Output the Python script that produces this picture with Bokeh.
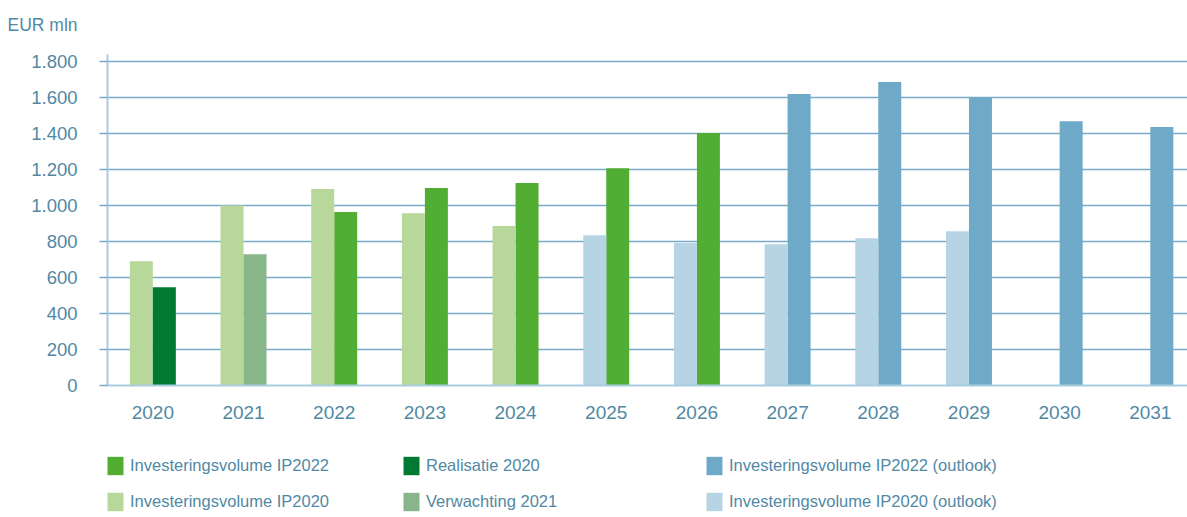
from bokeh.plotting import figure
from bokeh.layouts import column
from bokeh.models import Range1d, FixedTicker, Legend, LegendItem, ColumnDataSource
from bokeh.transform import dodge
from bokeh.embed import file_html
from bokeh.resources import INLINE

# ---------------- data ----------------
years = ["2020", "2021", "2022", "2023", "2024", "2025", "2026",
         "2027", "2028", "2029", "2030", "2031"]

ip2020_years = ["2020", "2021", "2022", "2023", "2024"]
ip2020_values = [690, 1000, 1091, 957, 885]

ip2020_outlook_years = ["2025", "2026", "2027", "2028", "2029"]
ip2020_outlook_values = [835, 791, 785, 818, 857]

realisatie_years = ["2020"]
realisatie_values = [546]

verwachting_years = ["2021"]
verwachting_values = [729]

ip2022_years = ["2022", "2023", "2024", "2025", "2026"]
ip2022_values = [963, 1096, 1124, 1207, 1402]

ip2022_outlook_years = ["2027", "2028", "2029", "2030", "2031"]
ip2022_outlook_values = [1618, 1685, 1600, 1468, 1435]

y_ticks = [0, 200, 400, 600, 800, 1000, 1200, 1400, 1600, 1800]

# ---------------- styles ----------------
C_IP2022 = "#52ad33"
C_REAL = "#007a33"
C_IP2020 = "#b8d79b"
C_VERW = "#88b58a"
C_IP2022_OUT = "#6eaac8"
C_IP2020_OUT = "#b7d4e5"
TEXT = "#5189a5"
GRID = "#78aac5"
AXIS = "#a8cde0"
FONT = "Liberation Sans"

BAR_W = 0.2536

p = figure(width=1187, height=440, output_backend="svg", toolbar_location=None,
           x_range=Range1d(-0.5, 11.41), y_range=Range1d(0, 1838),
           min_border_left=107, min_border_right=0, min_border_top=54,
           min_border_bottom=55)
p.outline_line_color = None
p.background_fill_color = None
p.border_fill_color = "white"


def src(yrs, vals):
    return ColumnDataSource(dict(x=[years.index(y) for y in yrs], top=vals))


series = [
    ("Investeringsvolume IP2022", ip2022_years, ip2022_values, C_IP2022, +1),
    ("Investeringsvolume IP2020", ip2020_years, ip2020_values, C_IP2020, -1),
    ("Realisatie 2020", realisatie_years, realisatie_values, C_REAL, +1),
    ("Verwachting 2021", verwachting_years, verwachting_values, C_VERW, +1),
    ("Investeringsvolume IP2022 (outlook)", ip2022_outlook_years, ip2022_outlook_values, C_IP2022_OUT, +1),
    ("Investeringsvolume IP2020 (outlook)", ip2020_outlook_years, ip2020_outlook_values, C_IP2020_OUT, -1),
]

sources = []
for name, yrs, vals, col, side in series:
    s = src(yrs, vals)
    sources.append(s)
    p.vbar(x=dodge("x", side * BAR_W / 2), top="top", width=BAR_W, bottom=0,
           source=s, fill_color=col, line_color=None)

# ---------------- axes ----------------
p.xgrid.grid_line_color = None
p.ygrid.grid_line_color = GRID
p.ygrid.grid_line_width = 1.3
p.ygrid.ticker = FixedTicker(ticks=y_ticks)

p.yaxis.ticker = FixedTicker(ticks=y_ticks)
p.yaxis.major_label_overrides = {v: f"{v:,}".replace(",", ".") for v in y_ticks}
p.yaxis.axis_line_color = AXIS
p.yaxis.axis_line_width = 2
p.yaxis.major_tick_line_color = GRID
p.yaxis.major_tick_line_width = 1.3
p.yaxis.major_tick_out = 8
p.yaxis.major_tick_in = 0
p.yaxis.minor_tick_line_color = None
p.yaxis.major_label_standoff = 22
p.yaxis.major_label_text_font = FONT
p.yaxis.major_label_text_font_size = "18.5px"
p.yaxis.major_label_text_color = TEXT

p.xaxis.ticker = FixedTicker(ticks=list(range(len(years))))
p.xaxis.major_label_overrides = {i: y for i, y in enumerate(years)}
p.xaxis.axis_line_color = AXIS
p.xaxis.axis_line_width = 2
p.xaxis.major_tick_line_color = None
p.xaxis.minor_tick_line_color = None
p.xaxis.major_tick_out = 0
p.xaxis.major_tick_in = 0
p.xaxis.major_label_standoff = 20
p.xaxis.major_label_text_font = FONT
p.xaxis.major_label_text_font_size = "19px"
p.xaxis.major_label_text_color = TEXT

# ---------------- title (unit label, top left) ----------------
p.title.text = "EUR mln\n"
p.title.align = "left"
p.title.vertical_align = "bottom"
p.title.offset = -100
p.title.standoff = 0
p.title.text_font = FONT
p.title.text_font_size = "17.5px"
p.title.text_font_style = "normal"
p.title.text_color = TEXT

# ---------------- legend strip ----------------
# same series, hidden: they only provide legend swatches
lf = figure(width=1187, height=77, output_backend="svg", toolbar_location=None,
            x_range=Range1d(1000, 1011), y_range=Range1d(-100, -50),
            min_border_left=107, min_border_right=0, min_border_top=0,
            min_border_bottom=0)
lf.axis.visible = False
lf.grid.grid_line_color = None
lf.outline_line_color = None
lf.background_fill_color = None

items = []
for (name, yrs, vals, col, side), s in zip(series, sources):
    r = lf.vbar(x="x", top="top", bottom=0, width=BAR_W, source=s,
                fill_color=col, line_color=None, visible=False)
    items.append(LegendItem(label=name, renderers=[r]))


def make_legend(its, x):
    lg = Legend(items=its, location=(x, 4), orientation="vertical",
                glyph_width=20, glyph_height=23, spacing=13, padding=0, margin=0,
                label_standoff=5, label_text_font=FONT, label_text_font_size="16.5px",
                label_text_color=TEXT, border_line_color=None,
                background_fill_color=None, label_height=23,
                inactive_fill_alpha=0)
    lf.add_layout(lg, "center")


make_legend(items[0:2], -2)
make_legend(items[2:4], 294)
make_legend(items[4:6], 597)

open("out.html", "w").write(file_html(column(p, lf, spacing=0), INLINE))
